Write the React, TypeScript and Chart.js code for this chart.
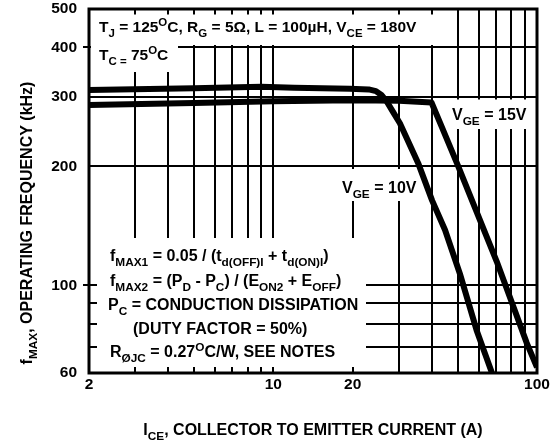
import React, { useEffect, useRef } from "react";
import { Chart, registerables } from "chart.js";

Chart.register(...registerables);

// ---- data ----
const currentVge10 = [2, 5, 9, 12, 19.5, 23, 24.5, 25.7, 27, 28.4, 30.2, 35.4, 40, 44.8, 51, 59, 67.5];
const freqVge10 = [312, 315, 318, 316, 314, 313, 310, 303, 291, 275, 257, 204, 164, 138, 107, 77, 60];

const currentVge15 = [2, 5, 10, 20, 30, 39.8, 43.5, 50.1, 58.2, 70.3, 81, 91.4, 100];
const freqVge15 = [286, 289, 292, 294, 293, 290, 252, 201, 157, 115, 89, 71.5, 62];

const xTickValues = [2, 3, 4, 5, 6, 7, 8, 9, 10, 20, 30, 40, 50, 60, 70, 80, 90, 100];
const xTickLabels = [2, 10, 20, 100];
const yTickValues = [60, 70, 80, 90, 100, 200, 300, 400, 500];
const yTickLabels = [60, 100, 200, 300, 400, 500];
const yOuterTicks = [100, 400];

const FAM = '"Liberation Sans", Arial, Helvetica, sans-serif';

type Run = { t: string; s?: "sub" | "sup" };

function drawRich(
  ctx: CanvasRenderingContext2D,
  runs: Run[],
  x: number,
  y: number,
  size: number,
  align: "left" | "center" = "left"
) {
  const fontFor = (r: Run) => `bold ${r.s ? size * 0.74 : size}px ${FAM}`;
  let total = 0;
  for (const r of runs) {
    ctx.font = fontFor(r);
    total += ctx.measureText(r.t).width;
  }
  let cx = align === "center" ? x - total / 2 : x;
  ctx.textBaseline = "alphabetic";
  ctx.textAlign = "left";
  ctx.fillStyle = "#000";
  for (const r of runs) {
    ctx.font = fontFor(r);
    const dy = r.s === "sub" ? size * 0.32 : r.s === "sup" ? -size * 0.4 : 0;
    ctx.fillText(r.t, cx, y + dy);
    cx += ctx.measureText(r.t).width;
  }
}

const annotPlugin = {
  id: "annot",
  beforeDatasetsDraw(chart: any) {
    const ctx: CanvasRenderingContext2D = chart.ctx;
    ctx.save();
    ctx.fillStyle = "#fff";
    const boxes: [number, number, number, number][] = [
      [91, 14.5, 440, 45],
      [91, 45, 178, 72],
      [97, 238, 366, 367],
      [450, 99.5, 530, 129],
      [338, 169, 418, 201],
    ];
    for (const [x0, y0, x1, y1] of boxes) ctx.fillRect(x0, y0, x1 - x0, y1 - y0);
    ctx.restore();
  },
  afterDatasetsDraw(chart: any) {
    const ctx: CanvasRenderingContext2D = chart.ctx;
    const a = chart.chartArea;
    ctx.save();
    const S = 16;
    drawRich(ctx, [
      { t: "T" }, { t: "J", s: "sub" }, { t: " = 125" }, { t: "O", s: "sup" }, { t: "C, R" },
      { t: "G", s: "sub" }, { t: " = 5\u03A9, L = 100\u00B5H, V" }, { t: "CE", s: "sub" }, { t: " = 180V" },
    ], 99, 32, 15.5);
    drawRich(ctx, [
      { t: "T" }, { t: "C =", s: "sub" }, { t: " 75" }, { t: "O", s: "sup" }, { t: "C" },
    ], 99, 60, 15.5);
    drawRich(ctx, [{ t: "V" }, { t: "GE", s: "sub" }, { t: " = 15V" }], 452, 120, S);
    drawRich(ctx, [{ t: "V" }, { t: "GE", s: "sub" }, { t: " = 10V" }], 342, 193, S);
    drawRich(ctx, [
      { t: "f" }, { t: "MAX1", s: "sub" }, { t: " = 0.05 / (t" }, { t: "d(OFF)I", s: "sub" },
      { t: " + t" }, { t: "d(ON)I", s: "sub" }, { t: ")" },
    ], 110, 261, S);
    drawRich(ctx, [
      { t: "f" }, { t: "MAX2", s: "sub" }, { t: " = (P" }, { t: "D", s: "sub" }, { t: " - P" },
      { t: "C", s: "sub" }, { t: ") / (E" }, { t: "ON2", s: "sub" }, { t: " + E" }, { t: "OFF", s: "sub" }, { t: ")" },
    ], 110, 286, S);
    drawRich(ctx, [{ t: "P" }, { t: "C", s: "sub" }, { t: " = CONDUCTION DISSIPATION" }], 108, 310, S);
    drawRich(ctx, [{ t: "(DUTY FACTOR = 50%)" }], 133, 334, S);
    drawRich(ctx, [
      { t: "R" }, { t: "\u00D8JC", s: "sub" }, { t: " = 0.27" }, { t: "O", s: "sup" }, { t: "C/W, SEE NOTES" },
    ], 110, 357, S);

    // axis titles
    drawRich(ctx, [{ t: "I" }, { t: "CE", s: "sub" }, { t: ", COLLECTOR TO EMITTER CURRENT (A)" }], (a.left + a.right) / 2, 435, S, "center");
    ctx.save();
    ctx.translate(32, 223);
    ctx.rotate(-Math.PI / 2);
    drawRich(ctx, [{ t: "f" }, { t: "MAX", s: "sub" }, { t: ", OPERATING FREQUENCY (kHz)" }], 0, 0, S, "center");
    ctx.restore();

    // frame
    ctx.strokeStyle = "#000";
    ctx.lineWidth = 3;
    ctx.strokeRect(a.left, a.top, a.right - a.left, a.bottom - a.top);
    ctx.restore();
  },
};

export default function App() {
  const ref = useRef<HTMLCanvasElement>(null);
  useEffect(() => {
    const tickFont = { family: FAM, size: 15.5, weight: "bold" as const, lineHeight: 1 };
    const lineStyle = {
      borderColor: "#000",
      borderWidth: 6,
      pointRadius: 0,
      tension: 0,
      borderJoinStyle: "round" as const,
      fill: false,
    };
    const chart = new Chart(ref.current!, {
      type: "line",
      data: {
        datasets: [
          { label: "VGE = 10V", data: currentVge10.map((x, i) => ({ x, y: freqVge10[i] })), ...lineStyle },
          { label: "VGE = 15V", data: currentVge15.map((x, i) => ({ x, y: freqVge15[i] })), ...lineStyle },
        ],
      },
      options: {
        responsive: false,
        animation: false,
        devicePixelRatio: 1,
        layout: { padding: { left: 0, right: 15, top: 9, bottom: 0 } },
        plugins: { legend: { display: false }, tooltip: { enabled: false } },
        scales: {
          x: {
            type: "logarithmic",
            min: 2,
            max: 100,
            afterBuildTicks: (s: any) => {
              s.ticks = xTickValues.map((v) => ({ value: v }));
            },
            afterFit: (s: any) => {
              s.height = 72;
              s.paddingLeft = 0;
              s.paddingRight = 0;
            },
            ticks: {
              autoSkip: false,
              maxRotation: 0,
              padding: 4,
              color: "#000",
              font: tickFont,
              callback: (v: any) => (xTickLabels.includes(Number(v)) ? String(v) : ""),
            },
            grid: { color: "#000", lineWidth: 2, drawTicks: false },
            border: { display: false },
          },
          y: {
            type: "logarithmic",
            min: 60,
            max: 500,
            afterBuildTicks: (s: any) => {
              s.ticks = yTickValues.map((v) => ({ value: v }));
            },
            afterFit: (s: any) => {
              s.width = 89;
              s.paddingTop = 0;
              s.paddingBottom = 0;
            },
            ticks: {
              autoSkip: false,
              padding: 6,
              color: "#000",
              font: tickFont,
              callback: (v: any) => (yTickLabels.includes(Number(v)) ? String(v) : ""),
            },
            grid: {
              color: "#000",
              lineWidth: 2,
              drawTicks: true,
              tickLength: 6,
              tickColor: (c: any) => (c.tick && yOuterTicks.includes(c.tick.value) ? "#000" : "rgba(0,0,0,0)"),
            },
            border: { display: false },
          },
        },
      },
      plugins: [annotPlugin],
    } as any);
    return () => chart.destroy();
  }, []);
  return (
    <div style={{ position: "fixed", left: 0, top: 0, width: 552, height: 445, background: "#fff" }}>
      <canvas ref={ref} width={552} height={445} style={{ display: "block" }} />
    </div>
  );
}
